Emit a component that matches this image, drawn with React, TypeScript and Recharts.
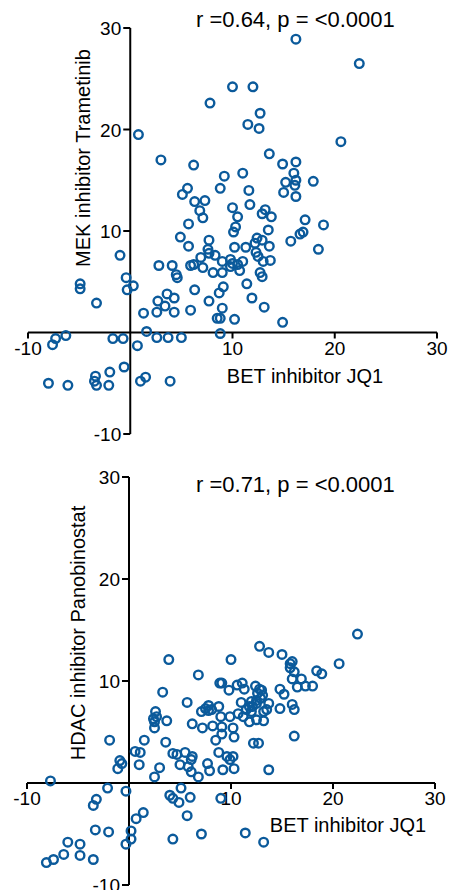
import React from "react";
import {
  ScatterChart,
  Scatter,
  XAxis,
  YAxis,
  ReferenceLine,
  ReferenceDot,
} from "recharts";

// BET inhibitor JQ1 vs MEK inhibitor Trametinib
const jq1Mek = [
  0.8, 3.0, 6.2, 7.8, 10.0, 9.2, 8.8, 5.6, 5.1, 16.2, 22.4, 12.0,
  12.7, 11.5, 12.6, 20.6, 13.6, 14.9, 16.2, 16.0, 16.2, 15.2, 15.0, 16.1,
  16.2, 17.9, 11.0, 11.6, 6.3, 7.3, 6.8, 7.1, 5.7, 4.9, 5.7, 2.8,
  4.1, 4.5, 4.6, 10.0, 11.7, 13.2, 12.9, 13.8, 10.5, 17.1, 18.9, 16.6,
  16.9, 15.7, 18.4, 13.5, 10.3, 10.1, 7.7, 7.6, 7.7, 8.3, 6.9, 6.2,
  5.9, 7.1, 9.0, 9.8, 10.2, 11.3, 12.2, 12.4, 12.9, 13.6, 12.3, 12.5,
  13.0, 13.7, 11.0, 10.0, 10.5, 10.7, 9.8, 9.0, 8.1, 12.7, 12.9, 11.4,
  9.1, 8.7, 6.3, 7.7, 9.0, 8.5, 8.8, 10.2, 11.9, 13.1, 14.9, 5.9,
  4.3, 4.3, 3.6, 2.7, 3.4, 2.6, 1.3, 1.6, 2.6, 3.7, 5.0, 8.8,
  -1.0, -4.9, -4.9, -3.3, -0.4, 0.3, -0.3, -6.3, -7.3, -7.6, -1.7, -0.7,
  0.7, -0.6, -2.0, -3.4, -3.5, -3.3, -2.1, -8.0, -6.1, 1.0, 1.5, 3.9,
];
const trametinib = [
  19.5, 17.0, 16.5, 22.6, 24.2, 15.4, 14.2, 14.2, 13.6, 28.9, 26.5, 24.2,
  21.6, 20.5, 20.1, 18.8, 17.6, 16.6, 16.8, 15.7, 15.0, 14.8, 13.8, 14.5,
  13.4, 14.9, 15.7, 14.0, 12.9, 13.0, 12.0, 11.3, 10.7, 9.4, 8.5, 6.6,
  6.6, 5.7, 5.4, 12.3, 12.6, 12.1, 11.7, 11.4, 11.4, 11.1, 10.6, 9.7,
  9.9, 9.0, 8.2, 10.1, 10.4, 9.9, 9.1, 8.2, 7.8, 7.6, 7.4, 6.7,
  6.6, 6.4, 7.0, 7.2, 8.4, 8.4, 8.8, 9.3, 9.1, 8.5, 7.9, 7.5,
  7.0, 7.1, 7.0, 6.8, 6.7, 6.1, 6.5, 5.9, 5.9, 5.9, 5.5, 4.8,
  4.5, 3.9, 4.2, 3.1, 2.4, 1.4, 1.4, 1.3, 3.4, 2.5, 1.0, 2.2,
  2.0, 3.4, 3.8, 3.1, 2.6, 2.0, 1.9, 0.1, -0.5, -0.5, -0.5, -0.1,
  7.6, 4.8, 4.3, 2.9, 5.4, 4.6, 4.2, -0.3, -0.6, -1.2, -0.6, -0.6,
  -1.3, -3.4, -3.9, -4.3, -4.8, -5.2, -5.2, -5.0, -5.2, -4.8, -4.4, -4.8,
];

// BET inhibitor JQ1 vs HDAC inhibitor Panobinostat
const jq1Hdac = [
  22.4, 12.8, 13.7, 15.0, 10.0, 20.6, 15.8, 16.0, 15.8, 16.2, 18.4, 18.9,
  16.0, 16.9, 16.5, 17.3, 18.0, 14.8, 15.2, 16.0, 16.2, 14.8, 16.2, 13.7,
  9.1, 10.6, 11.1, 11.3, 9.8, 12.4, 12.8, 13.0, 12.6, 13.1, 12.9, 11.0,
  12.0, 11.8, 11.5, 12.1, 12.5, 13.7, 13.5, 13.2, 9.9, 10.7, 11.2, 11.8,
  12.5, 13.2, 9.1, 10.2, 9.1, 10.3, 12.2, 12.7, 9.6, 10.2, 9.9, 10.3,
  9.2, 9.0, 11.4, 13.2, 3.9, 6.8, 8.9, 3.3, 5.7, 7.1, 7.5, 7.8,
  8.1, 7.8, 8.8, 2.6, 2.7, 2.4, 2.5, 3.7, 2.5, 6.2, 7.2, 8.2,
  9.0, 8.5, 12.5, 12.0, 1.5, 0.6, 1.1, 1.0, 3.6, 4.3, 4.7, 5.5,
  6.2, 6.1, 5.0, 5.8, 6.1, 6.8, 3.0, 2.5, 7.7, 7.9, 8.8, 5.1,
  4.0, 4.3, 4.9, 6.0, -1.9, -0.9, -0.7, -1.1, -7.7, -2.1, -0.3, -3.2,
  -3.5, 1.4, 0.7, 5.7, -3.3, -2.0, 0.2, 0.2, -0.3, 4.3, 7.1, -6.0,
  -4.8, -6.4, -7.4, -8.1, -4.8, -3.5,
];
const panobinostat = [
  14.6, 13.4, 12.8, 12.6, 12.1, 11.7, 11.7, 11.9, 11.3, 10.9, 11.0, 10.7,
  10.2, 10.2, 9.4, 9.5, 9.5, 9.2, 8.7, 7.7, 7.2, 7.3, 4.6, 1.3,
  9.8, 9.6, 9.8, 9.2, 9.1, 9.5, 9.2, 9.1, 8.8, 8.6, 8.3, 7.9,
  8.0, 7.5, 7.2, 7.5, 7.8, 7.8, 7.2, 7.0, 6.5, 6.8, 6.5, 6.0,
  6.2, 6.1, 5.5, 5.4, 4.8, 4.5, 3.9, 3.9, 2.6, 2.6, 2.3, 1.4,
  1.3, -1.5, -4.9, -5.8, 12.1, 10.6, 9.8, 8.9, 7.9, 7.0, 7.3, 7.6,
  7.2, 7.1, 7.5, 7.0, 6.5, 6.3, 6.0, 6.1, 5.4, 5.8, 5.4, 5.6,
  6.5, 4.2, 8.1, 7.0, 4.2, 3.1, 3.0, 1.8, 4.0, 2.9, 2.8, 3.0,
  2.6, 2.3, 1.8, 1.6, 1.1, 0.6, 1.5, 0.6, 1.9, 1.2, 3.0, -0.5,
  -1.2, -1.5, -1.9, -1.4, 4.2, 2.2, 1.9, 1.4, 0.2, -0.5, -0.8, -1.6,
  -2.2, -2.9, -3.5, -3.2, -4.6, -4.8, -4.7, -5.5, -6.0, -5.5, -5.0, -5.8,
  -6.0, -7.0, -7.5, -7.8, -7.1, -7.5,
];

const xTicks = [-10, 10, 20, 30];
const yTicks = [-10, 10, 20, 30];
const domain: [number, number] = [-10, 30];

const BLUE = "#0b5a9b";
const FONT = "'Liberation Sans', Arial, Helvetica, sans-serif";
const W = 466;
const H = 445;

const toPoints = (xs: number[], ys: number[]) =>
  xs.map((x, i) => ({ x, y: ys[i] }));

const Ring = (p: any) => (
  <circle cx={p.cx} cy={p.cy} r={4.3} fill="none" stroke={BLUE} strokeWidth={2.4} />
);

const xTickShape = (label: number) => (p: any) => (
  <g>
    <line x1={p.cx} y1={p.cy} x2={p.cx} y2={p.cy + 6} stroke="#000" strokeWidth={2} />
    <text x={p.cx} y={p.cy + 22} textAnchor="middle" fontSize={19} fontFamily={FONT} fill="#000">
      {label}
    </text>
  </g>
);

const yTickShape = (label: number) => (p: any) => (
  <g>
    <line x1={p.cx} y1={p.cy} x2={p.cx - 7} y2={p.cy} stroke="#000" strokeWidth={2} />
    <text x={p.cx - 9} y={p.cy + 7} textAnchor="end" fontSize={19} fontFamily={FONT} fill="#000">
      {label}
    </text>
  </g>
);

interface PanelProps {
  xs: number[];
  ys: number[];
  margin: { top: number; right: number; bottom: number; left: number };
  stat: string;
  statPos: [number, number];
  xLabel: string;
  xLabelPos: [number, number];
  yLabel: string;
  yLabelPos: [number, number];
}

function Panel({ xs, ys, margin, stat, statPos, xLabel, xLabelPos, yLabel, yLabelPos }: PanelProps) {
  const data = toPoints(xs, ys);
  return (
    <div style={{ position: "relative", width: W, height: H }}>
      <ScatterChart width={W} height={H} margin={margin}>
        <XAxis type="number" dataKey="x" domain={domain} hide allowDataOverflow />
        <YAxis type="number" dataKey="y" domain={domain} hide allowDataOverflow />
        <ReferenceLine y={0} stroke="#000" strokeWidth={2} />
        <ReferenceLine x={0} stroke="#000" strokeWidth={2} />
        {xTicks.map((t) => (
          <ReferenceDot key={"x" + t} x={t} y={0} r={0} ifOverflow="visible" shape={xTickShape(t)} />
        ))}
        {yTicks.map((t) => (
          <ReferenceDot key={"y" + t} x={0} y={t} r={0} ifOverflow="visible" shape={yTickShape(t)} />
        ))}
        <Scatter data={data} shape={Ring} isAnimationActive={false} />
      </ScatterChart>
      <svg
        width={W}
        height={H}
        style={{ position: "absolute", left: 0, top: 0, pointerEvents: "none" }}
      >
        <text x={statPos[0]} y={statPos[1]} fontSize={22} fontFamily={FONT} fill="#000">
          {stat}
        </text>
        <text
          x={xLabelPos[0]}
          y={xLabelPos[1]}
          textAnchor="middle"
          fontSize={20}
          fontFamily={FONT}
          fill="#000"
        >
          {xLabel}
        </text>
        <text
          x={yLabelPos[0]}
          y={yLabelPos[1]}
          textAnchor="middle"
          fontSize={20}
          fontFamily={FONT}
          fill="#000"
          transform={`rotate(-90 ${yLabelPos[0]} ${yLabelPos[1]})`}
        >
          {yLabel}
        </text>
      </svg>
    </div>
  );
}

export default function App() {
  return (
    <div style={{ position: "absolute", left: 0, top: 0, width: W, height: 890, background: "#fff", overflow: "hidden" }}>
      <Panel
        xs={jq1Mek}
        ys={trametinib}
        margin={{ top: 28, right: 29, bottom: 11, left: 28 }}
        stat="r =0.64, p = <0.0001"
        statPos={[196, 27]}
        xLabel="BET inhibitor JQ1"
        xLabelPos={[305, 383]}
        yLabel="MEK inhibitor Trametinib"
        yLabelPos={[90, 158]}
      />
      <Panel
        xs={jq1Hdac}
        ys={panobinostat}
        margin={{ top: 32, right: 31, bottom: 5, left: 27 }}
        stat="r =0.71, p = <0.0001"
        statPos={[196, 47]}
        xLabel="BET inhibitor JQ1"
        xLabelPos={[348, 387]}
        yLabel="HDAC inhibitor Panobinostat"
        yLabelPos={[85, 188]}
      />
    </div>
  );
}
